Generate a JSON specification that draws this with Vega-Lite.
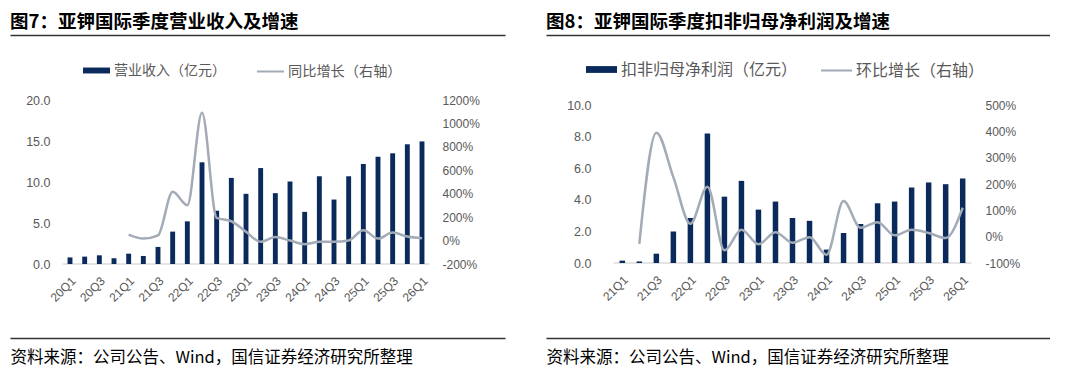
{
  "$schema": "https://vega.github.io/schema/vega-lite/v6.json",
  "background": "white",
  "padding": {"left": 10, "top": 12, "right": 0, "bottom": 0},
  "spacing": 41,
  "resolve": {"scale": {"color": "independent", "stroke": "independent"}, "legend": {"color": "independent", "stroke": "independent"}},
  "config": {"view": {"stroke": null}, "font": "Noto Sans CJK SC"},
  "hconcat": [
    {
      "width": 495,
      "height": 164,
      "title": {"text": "图7：亚钾国际季度营业收入及增速", "anchor": "start", "frame": "group", "fontSize": 18.5, "font": "Noto Sans CJK SC", "fontWeight": "bold", "color": "#000000", "offset": 4},
      "data": {"values": [
        {"q": "20Q1", "rev": 0.8, "yoy": null},
        {"q": "20Q2", "rev": 0.9, "yoy": null},
        {"q": "20Q3", "rev": 1.06, "yoy": null},
        {"q": "20Q4", "rev": 0.7, "yoy": null},
        {"q": "21Q1", "rev": 1.26, "yoy": 51},
        {"q": "21Q2", "rev": 0.98, "yoy": 17},
        {"q": "21Q3", "rev": 2.08, "yoy": 45},
        {"q": "21Q4", "rev": 3.95, "yoy": 416},
        {"q": "22Q1", "rev": 5.2, "yoy": 302},
        {"q": "22Q2", "rev": 12.4, "yoy": 1091},
        {"q": "22Q3", "rev": 6.5, "yoy": 194},
        {"q": "22Q4", "rev": 10.5, "yoy": 165},
        {"q": "23Q1", "rev": 8.56, "yoy": 75},
        {"q": "23Q2", "rev": 11.7, "yoy": -11},
        {"q": "23Q3", "rev": 8.64, "yoy": 31},
        {"q": "23Q4", "rev": 10.06, "yoy": 0},
        {"q": "24Q1", "rev": 6.36, "yoy": -31},
        {"q": "24Q2", "rev": 10.7, "yoy": -11},
        {"q": "24Q3", "rev": 7.86, "yoy": -11},
        {"q": "24Q4", "rev": 10.7, "yoy": 0},
        {"q": "25Q1", "rev": 12.2, "yoy": 88},
        {"q": "25Q2", "rev": 13.08, "yoy": 17},
        {"q": "25Q3", "rev": 13.5, "yoy": 68},
        {"q": "25Q4", "rev": 14.6, "yoy": 34},
        {"q": "26Q1", "rev": 14.95, "yoy": 20}
      ]},
      "resolve": {"scale": {"x": "independent", "y": "independent"}, "axis": {"x": "independent", "y": "independent"}},
      "layer": [
        {
          "mark": {"type": "tick", "color": "#d9d9d9", "thickness": 2, "size": 14.667},
          "encoding": {
            "x": {"field": "q", "type": "ordinal", "scale": {"type": "band", "range": [52.67, 419.33], "paddingInner": 0.666, "paddingOuter": 0.333}, "axis": null},
            "y": {"datum": 0, "type": "quantitative", "scale": {"domain": [0, 1]}, "axis": null}
          }
        },
        {
          "mark": {"type": "bar"},
          "encoding": {
            "x": {"field": "q", "type": "ordinal", "scale": {"type": "band", "range": [52.67, 419.33], "paddingInner": 0.666, "paddingOuter": 0.333},
              "axis": {"orient": "bottom", "values": ["20Q1","20Q3","21Q1","21Q3","22Q1","22Q3","23Q1","23Q3","24Q1","24Q3","25Q1","25Q3","26Q1"], "labelAngle": -45, "labelFontSize": 12, "labelColor": "#595959", "labelPadding": 11, "labelFont": "Liberation Sans", "domain": false, "ticks": false, "tickSize": 0, "title": null, "grid": false}},
            "y": {"field": "rev", "type": "quantitative", "scale": {"domain": [0, 20], "nice": false},
              "axis": {"orient": "left", "offset": -42, "values": [0, 5, 10, 15, 20], "format": ".1f", "labelFontSize": 12.5, "labelColor": "#595959", "labelFont": "Liberation Sans", "labelPadding": 2, "domain": false, "ticks": false, "tickSize": 0, "grid": false, "title": null}},
            "color": {"datum": "营业收入（亿元）", "scale": {"range": ["#0b2a5c"]},
              "legend": {"orient": "none", "legendX": 73, "legendY": -43, "title": null, "symbolType": "M-1,-0.22H1V0.22H-1Z", "symbolSize": 729, "symbolStrokeWidth": 0, "labelFontSize": 14, "labelColor": "#595959", "labelFont": "Noto Sans CJK SC", "labelOffset": 4, "labelLimit": 400, "padding": 0}}
          }
        },
        {
          "mark": {"type": "line", "interpolate": "monotone", "strokeWidth": 2.5},
          "encoding": {
            "x": {"field": "q", "type": "ordinal", "scale": {"type": "band", "range": [52.67, 419.33], "paddingInner": 0.666, "paddingOuter": 0.333}, "axis": null},
            "y": {"field": "yoy", "type": "quantitative", "scale": {"domain": [-200, 1200], "nice": false},
              "axis": {"orient": "right", "offset": -65, "values": [-200, 0, 200, 400, 600, 800, 1000, 1200], "labelExpr": "datum.value + '%'", "labelFontSize": 12, "labelColor": "#595959", "labelFont": "Liberation Sans", "labelPadding": 2, "domain": false, "ticks": false, "tickSize": 0, "grid": false, "title": null}},
            "stroke": {"datum": "同比增长（右轴）", "scale": {"range": ["#a3abb6"]},
              "legend": {"orient": "none", "legendX": 246, "legendY": -43, "title": null, "symbolType": "stroke", "symbolSize": 729, "symbolStrokeWidth": 2, "labelFontSize": 14.2, "labelColor": "#595959", "labelFont": "Noto Sans CJK SC", "labelOffset": 3, "labelLimit": 400, "padding": 0}}
          }
        },
        {
          "mark": {"type": "text"},
          "encoding": {
            "x": {"datum": 0, "type": "quantitative", "scale": {"domain": [0, 1]},
              "axis": {"orient": "top", "offset": 65, "labels": false, "ticks": false, "domain": true, "domainColor": "#333333", "domainWidth": 1.5, "title": null, "grid": false}},
            "y": {"datum": 0, "type": "quantitative", "scale": {"domain": [0, 1]}, "axis": null}
          }
        },
        {
          "mark": {"type": "text"},
          "encoding": {
            "x": {"datum": 0, "type": "quantitative", "scale": {"domain": [0, 1]},
              "axis": {"orient": "bottom", "offset": 74, "labels": false, "ticks": false, "domain": true, "domainColor": "#333333", "domainWidth": 1.5, "grid": false,
                "title": "资料来源：公司公告、Wind，国信证券经济研究所整理", "titleAnchor": "start", "titleAlign": "left", "titleFontSize": 16.5, "titleFontWeight": "normal", "titleColor": "#000000", "titlePadding": 11, "titleFont": "Noto Sans CJK SC"}},
            "y": {"datum": 0, "type": "quantitative", "scale": {"domain": [0, 1]}, "axis": null}
          }
        }
      ]
    },
    {
      "width": 504,
      "height": 163,
      "title": {"text": "图8：亚钾国际季度扣非归母净利润及增速", "anchor": "start", "frame": "group", "fontSize": 18.5, "font": "Noto Sans CJK SC", "fontWeight": "bold", "color": "#000000", "offset": 4},
      "data": {"values": [
        {"q": "21Q1", "np": 0.15, "qoq": null},
        {"q": "21Q2", "np": 0.1, "qoq": -27},
        {"q": "21Q3", "np": 0.59, "qoq": 395},
        {"q": "21Q4", "np": 2.0, "qoq": 226},
        {"q": "22Q1", "np": 2.85, "qoq": 49},
        {"q": "22Q2", "np": 8.2, "qoq": 190},
        {"q": "22Q3", "np": 4.2, "qoq": -52},
        {"q": "22Q4", "np": 5.2, "qoq": 26},
        {"q": "23Q1", "np": 3.38, "qoq": -29},
        {"q": "23Q2", "np": 3.89, "qoq": 17},
        {"q": "23Q3", "np": 2.85, "qoq": -23},
        {"q": "23Q4", "np": 2.67, "qoq": -2},
        {"q": "24Q1", "np": 0.85, "qoq": -69},
        {"q": "24Q2", "np": 1.9, "qoq": 135},
        {"q": "24Q3", "np": 2.47, "qoq": 34},
        {"q": "24Q4", "np": 3.78, "qoq": 55},
        {"q": "25Q1", "np": 3.89, "qoq": 5},
        {"q": "25Q2", "np": 4.78, "qoq": 26},
        {"q": "25Q3", "np": 5.1, "qoq": 14},
        {"q": "25Q4", "np": 4.99, "qoq": -5},
        {"q": "26Q1", "np": 5.35, "qoq": 110}
      ]},
      "resolve": {"scale": {"x": "independent", "y": "independent"}, "axis": {"x": "independent", "y": "independent"}},
      "layer": [
        {
          "mark": {"type": "tick", "color": "#d9d9d9", "thickness": 2, "size": 17.02},
          "encoding": {
            "x": {"field": "q", "type": "ordinal", "scale": {"type": "band", "range": [67.8, 425.2], "paddingInner": 0.677, "paddingOuter": 0.3385}, "axis": null},
            "y": {"datum": 0, "type": "quantitative", "scale": {"domain": [0, 1]}, "axis": null}
          }
        },
        {
          "mark": {"type": "bar"},
          "encoding": {
            "x": {"field": "q", "type": "ordinal", "scale": {"type": "band", "range": [67.8, 425.2], "paddingInner": 0.677, "paddingOuter": 0.3385},
              "axis": {"orient": "bottom", "values": ["21Q1","21Q3","22Q1","22Q3","23Q1","23Q3","24Q1","24Q3","25Q1","25Q3","26Q1"], "labelAngle": -45, "labelFontSize": 12, "labelColor": "#595959", "labelPadding": 11, "labelFont": "Liberation Sans", "domain": false, "ticks": false, "tickSize": 0, "title": null, "grid": false}},
            "y": {"field": "np", "type": "quantitative", "scale": {"domain": [0, 10.32], "nice": false},
              "axis": {"orient": "left", "offset": -47, "values": [0, 2, 4, 6, 8, 10], "format": ".1f", "labelFontSize": 12.5, "labelColor": "#595959", "labelFont": "Liberation Sans", "labelPadding": 2, "domain": false, "ticks": false, "tickSize": 0, "grid": false, "title": null}},
            "color": {"datum": "扣非归母净利润（亿元）", "scale": {"range": ["#0b2a5c"]},
              "legend": {"orient": "none", "legendX": 40, "legendY": -46, "title": null, "symbolType": "M-1,-0.22H1V0.22H-1Z", "symbolSize": 961, "symbolStrokeWidth": 0, "labelFontSize": 16, "labelColor": "#595959", "labelFont": "Noto Sans CJK SC", "labelOffset": 4, "labelLimit": 400, "padding": 0}}
          }
        },
        {
          "mark": {"type": "line", "interpolate": "monotone", "strokeWidth": 2.5},
          "encoding": {
            "x": {"field": "q", "type": "ordinal", "scale": {"type": "band", "range": [67.8, 425.2], "paddingInner": 0.677, "paddingOuter": 0.3385}, "axis": null},
            "y": {"field": "qoq", "type": "quantitative", "scale": {"domain": [-100, 519], "nice": false},
              "axis": {"orient": "right", "offset": -67, "values": [-100, 0, 100, 200, 300, 400, 500], "labelExpr": "datum.value + '%'", "labelFontSize": 12, "labelColor": "#595959", "labelFont": "Liberation Sans", "labelPadding": 2, "domain": false, "ticks": false, "tickSize": 0, "grid": false, "title": null}},
            "stroke": {"datum": "环比增长（右轴）", "scale": {"range": ["#a3abb6"]},
              "legend": {"orient": "none", "legendX": 274, "legendY": -46, "title": null, "symbolType": "stroke", "symbolSize": 961, "symbolStrokeWidth": 2, "labelFontSize": 16, "labelColor": "#595959", "labelFont": "Noto Sans CJK SC", "labelOffset": 3, "labelLimit": 400, "padding": 0}}
          }
        },
        {
          "mark": {"type": "text"},
          "encoding": {
            "x": {"datum": 0, "type": "quantitative", "scale": {"domain": [0, 1]},
              "axis": {"orient": "top", "offset": 65, "labels": false, "ticks": false, "domain": true, "domainColor": "#333333", "domainWidth": 1.5, "title": null, "grid": false}},
            "y": {"datum": 0, "type": "quantitative", "scale": {"domain": [0, 1]}, "axis": null}
          }
        },
        {
          "mark": {"type": "text"},
          "encoding": {
            "x": {"datum": 0, "type": "quantitative", "scale": {"domain": [0, 1]},
              "axis": {"orient": "bottom", "offset": 75, "labels": false, "ticks": false, "domain": true, "domainColor": "#333333", "domainWidth": 1.5, "grid": false,
                "title": "资料来源：公司公告、Wind，国信证券经济研究所整理", "titleAnchor": "start", "titleAlign": "left", "titleFontSize": 16.5, "titleFontWeight": "normal", "titleColor": "#000000", "titlePadding": 11, "titleFont": "Noto Sans CJK SC"}},
            "y": {"datum": 0, "type": "quantitative", "scale": {"domain": [0, 1]}, "axis": null}
          }
        }
      ]
    }
  ]
}
